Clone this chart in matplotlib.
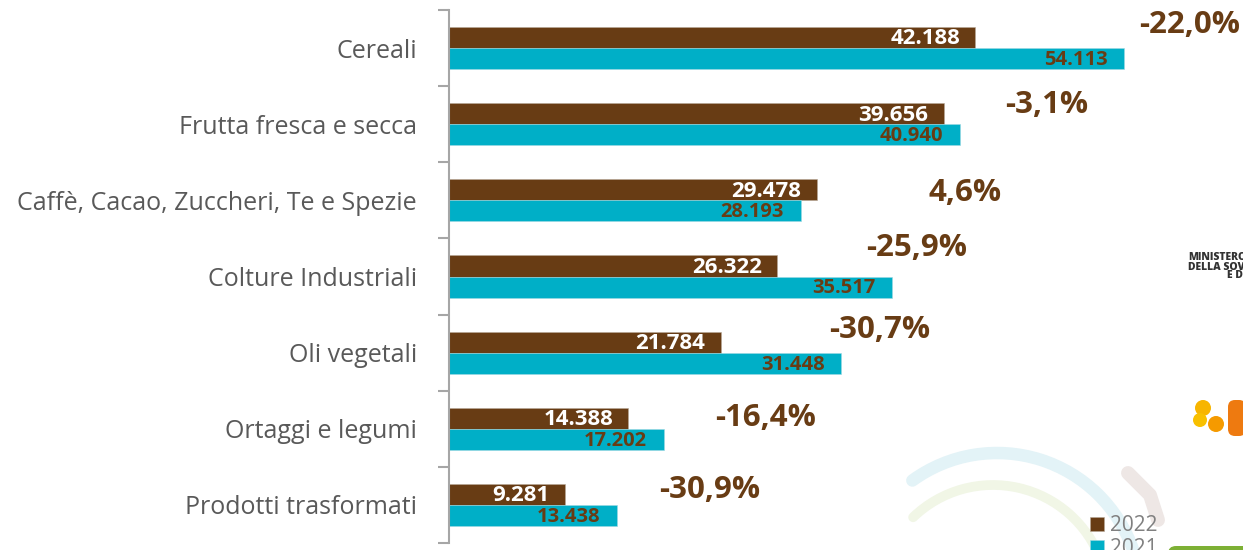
import matplotlib.pyplot as plt
from matplotlib.patches import Arc, FancyBboxPatch, Circle
import numpy as np

categorie = ["Cereali", "Frutta fresca e secca", "Caffè, Cacao, Zuccheri, Te e Spezie",
             "Colture Industriali", "Oli vegetali", "Ortaggi e legumi", "Prodotti trasformati"]
val_2022 = [42188, 39656, 29478, 26322, 21784, 14388, 9281]
val_2021 = [54113, 40940, 28193, 35517, 31448, 17202, 13438]

# posizione delle etichette percentuali (layout, unità dati)
pct_x = [59400, 47900, 41400, 37500, 34500, 25400, 20900]
pct_dy = [-0.30, -0.25, -0.10, -0.37, -0.30, -0.14, -0.20]

MARRONE = "#683C14"
CIANO = "#00AFC7"
GRIGIO = "#595959"

plt.rcParams['font.family'] = ['Open Sans', 'DejaVu Sans']

fig = plt.figure(figsize=(12.43, 5.5), dpi=100)

# sfondo decorativo (archi e loghi)
bg = fig.add_axes([0, 0, 1, 1], zorder=0)
bg.set_xlim(0, 1243)
bg.set_ylim(550, 0)
bg.axis('off')
bg.add_patch(Arc((997, 597), 288, 288, theta1=234, theta2=341, color="#E3F3F7", lw=9, capstyle='round'))
bg.add_patch(Arc((993, 600), 230, 230, theta1=226, theta2=340, color="#F1F6E6", lw=7, capstyle='round'))
bg.plot([1128, 1150, 1158], [473, 495, 520], color="#EEE7E5", lw=10, solid_capstyle='round')
bg.add_patch(FancyBboxPatch((1168, 546), 100, 20, boxstyle="round,pad=0,rounding_size=8",
                            color="#7DB035", lw=0))
bg.text(1188, 258, "MINISTERO", ha='left', va='center', fontsize=7.5, fontweight='heavy', color="#333333")
bg.text(1188, 267, "DELLA SOVRANITÀ", ha='left', va='center', fontsize=7.5, fontweight='heavy', color="#333333")
bg.text(1227, 276, "E DELLE", ha='left', va='center', fontsize=7.5, fontweight='heavy', color="#333333")
bg.add_patch(Circle((1203, 408), 8, color="#F7B500", lw=0))
bg.add_patch(Circle((1200, 420), 7, color="#F8C000", lw=0))
bg.add_patch(Circle((1216, 424), 8, color="#F59A00", lw=0))
bg.add_patch(FancyBboxPatch((1228, 400), 18, 36, boxstyle="round,pad=0,rounding_size=7",
                            color="#EE7A10", lw=0))

ax = fig.add_axes([449 / 1243, 7 / 550, (1243 - 449) / 1243, 533 / 550], zorder=1)
ax.patch.set_alpha(0)

y = np.arange(len(categorie))
h = 0.276
ax.barh(y - h / 2, val_2022, height=h, color=MARRONE, edgecolor="#B8A898", linewidth=0.4, label="2022")
ax.barh(y + h / 2, val_2021, height=h, color=CIANO, edgecolor="#9ED8E2", linewidth=0.4, label="2021")

def fmt(v):
    return f"{v:,}".replace(",", ".")

for i in range(len(categorie)):
    ax.annotate(fmt(val_2022[i]), (val_2022[i], y[i] - h / 2), xytext=(-11, -1), textcoords='offset points',
                ha='right', va='center', fontsize=16, fontweight='bold', color='white')
    ax.annotate(fmt(val_2021[i]), (val_2021[i], y[i] + h / 2), xytext=(-12, -1), textcoords='offset points',
                ha='right', va='center', fontsize=14.5, fontweight='bold', color=MARRONE)
    pct = (val_2022[i] / val_2021[i] - 1) * 100
    testo = f"{pct:.1f}%".replace(".", ",")
    ax.text(pct_x[i], y[i] + pct_dy[i], testo, ha='center', va='center',
            fontsize=22.5, fontweight='bold', color=MARRONE)

ax.set_xlim(0, (1243 - 449) / 0.012474)
ax.set_ylim(len(categorie) - 0.5, -0.5)
ax.set_xticks([])
ax.set_yticks(np.arange(-0.5, len(categorie)))
ax.set_yticklabels([])
ax.set_yticks(y, minor=True)
ax.set_yticklabels(categorie, minor=True, fontsize=18, color=GRIGIO)
ax.tick_params(axis='y', which='major', length=8, width=1.5, color="#A6A6A6", direction='out')
ax.tick_params(axis='y', which='minor', length=0, pad=23)
for s in ['top', 'right', 'bottom']:
    ax.spines[s].set_visible(False)
ax.spines['left'].set_color("#A6A6A6")
ax.spines['left'].set_linewidth(1.5)

leg = ax.legend(loc='lower left', bbox_to_anchor=((1080 - 449) / 794, -0.05), frameon=False,
                fontsize=15, handlelength=0.65, handleheight=0.65, handletextpad=0.3,
                labelspacing=0.1, borderpad=0)
for t in leg.get_texts():
    t.set_color("#808080")

fig.savefig("out.png", dpi=100)
